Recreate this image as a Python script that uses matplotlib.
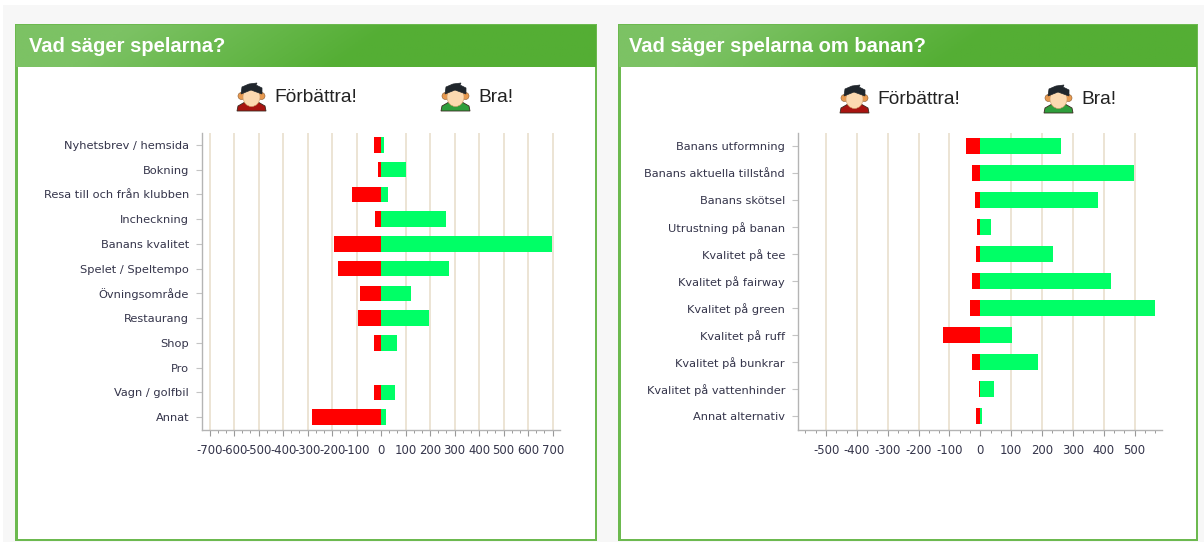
"""Two diverging bar panels: Vad säger spelarna?"""

import matplotlib

matplotlib.use("Agg")
import matplotlib.pyplot as plt
import numpy as np
from matplotlib.patches import Circle, Ellipse, Polygon, Rectangle

W, H = 1204, 542

left_title = "Vad säger spelarna?"
left_categories = [
    "Nyhetsbrev / hemsida",
    "Bokning",
    "Resa till och från klubben",
    "Incheckning",
    "Banans kvalitet",
    "Spelet / Speltempo",
    "Övningsområde",
    "Restaurang",
    "Shop",
    "Pro",
    "Vagn / golfbil",
    "Annat",
]
left_bad = [-31, -12, -120, -27, -192, -178, -86, -93, -30, 0, -31, -282]
left_good = [12, 102, 26, 263, 698, 276, 121, 197, 65, 0, 58, 19]
left_ticks = [-700, -600, -500, -400, -300, -200, -100, 0, 100, 200, 300, 400, 500, 600, 700]

right_title = "Vad säger spelarna om banan?"
right_categories = [
    "Banans utformning",
    "Banans aktuella tillstånd",
    "Banans skötsel",
    "Utrustning på banan",
    "Kvalitet på tee",
    "Kvalitet på fairway",
    "Kvalitet på green",
    "Kvalitet på ruff",
    "Kvalitet på bunkrar",
    "Kvalitet på vattenhinder",
    "Annat alternativ",
]
right_bad = [-46, -27, -16, -11, -15, -27, -32, -121, -27, -5, -15]
right_good = [261, 498, 380, 36, 235, 424, 565, 104, 187, 45, 4]
right_ticks = [-500, -400, -300, -200, -100, 0, 100, 200, 300, 400, 500]

GREEN = "#00ff66"
RED = "#ff0000"
GRID = "#e9dfcd"
AXIS = "#b4b4b4"
TEXT = "#34344a"
PANEL = "#6cb94f"


def draw_person(bg, x, y, shirt):
    """Small person icon, x and y are the top left corner in pixels"""
    bg.add_patch(Polygon([(x, y + 28), (x + 1, y + 23), (x + 8, y + 19), (x + 21, y + 19),
                          (x + 28, y + 23), (x + 29, y + 28)],
                         fc=shirt, ec="#3a2a20", lw=0.6, zorder=3))
    bg.add_patch(Circle((x + 4.5, y + 13), 3.5, fc="#e89a50", ec="#8a5a30", lw=0.4, zorder=3))
    bg.add_patch(Circle((x + 24.5, y + 13), 3.5, fc="#e89a50", ec="#8a5a30", lw=0.4, zorder=3))
    bg.add_patch(Ellipse((x + 14.5, y + 14), 17, 19, fc="#fcd9b0", ec="#d09a65", lw=0.4, zorder=4))
    bg.add_patch(Polygon([(x + 4, y + 11), (x + 5, y + 4), (x + 12, y + 1), (x + 20, y),
                          (x + 19, y + 2), (x + 25, y + 5), (x + 25, y + 11), (x + 14, y + 7)],
                         fc="#20262c", ec="#20262c", lw=0.5, zorder=5))


def draw_panel(bg, x0, x1, title, title_x):
    """Green framed box with the gradient header"""
    y0, y_head, y1 = 24, 67, 541
    bg.add_patch(Rectangle((x0, y0), x1 - x0, y1 - y0, fc=PANEL, ec="none", zorder=1))
    bg.add_patch(Rectangle((x0 + 3, y_head), x1 - x0 - 5, y1 - y_head - 2, fc="white", ec="none", zorder=2))

    # header gets lighter to the left, the bright part leans a bit
    xx, yy = np.meshgrid(np.linspace(0, 1, 200), np.linspace(0, 1, 20))
    t = np.clip((xx - 0.15 + 0.1 * (yy - 0.5)) / 0.45, 0, 1)[..., None]
    light = np.array([124, 194, 100]) / 255
    dark = np.array([84, 174, 52]) / 255
    bg.imshow(light * (1 - t) + dark * t, extent=(x0 + 1, x1 - 1, y_head, y0 + 1), aspect="auto", zorder=2)
    bg.text(title_x, 47, title, color="white", fontsize=14.5, fontweight="bold",
            family="Liberation Sans", va="center", zorder=6)


def draw_legend(bg, bad_x, good_x, y):
    """Icons and words above the chart"""
    draw_person(bg, bad_x, y - 14, "#a81410")
    bg.text(bad_x + 37, y, "Förbättra!", fontsize=13.8, color="#222222", family="Liberation Sans",
            va="center", zorder=6)
    draw_person(bg, good_x, y - 14, "#2f9e3c")
    bg.text(good_x + 37, y, "Bra!", fontsize=13.8, color="#222222", family="Liberation Sans",
            va="center", zorder=6)


def bar_height(n):
    """Bars are about 15.5 px high in both charts"""
    return 15.5 / (297 / n)


def plot_bars(rect, categories, bad, good, ticks, limit):
    """One diverging bar chart, rect is left, top, right, bottom in pixels"""
    left, top, right, bottom = rect
    ax = fig.add_axes([left / W, 1 - bottom / H, (right - left) / W, (bottom - top) / H])
    ax.patch.set_alpha(0)
    y = np.arange(len(categories))
    ax.vlines([t for t in ticks if t != 0], 0, 1, transform=ax.get_xaxis_transform(),
              color=GRID, lw=1.2, zorder=1)
    ax.barh(y, bad, height=bar_height(len(categories)), color=RED, zorder=3)
    ax.barh(y, good, height=bar_height(len(categories)), color=GREEN, zorder=3)
    ax.set_xlim(-limit, limit)
    ax.set_ylim(len(categories) - 0.5, -0.5)
    ax.set_yticks(y, categories)
    ax.set_xticks(ticks, [str(t) for t in ticks])
    ax.xaxis.set_minor_locator(plt.MultipleLocator(100 / 3))
    ax.tick_params(axis="y", length=4.5, width=0.8, color="#c4c4c4", pad=5, labelsize=8.2, labelcolor=TEXT)
    ax.tick_params(axis="x", which="major", length=4.5, width=0.8, color="#999999", pad=6,
                   labelsize=8.4, labelcolor=TEXT)
    ax.tick_params(axis="x", which="minor", length=2, width=0.7, color="#999999")
    for side in ["top", "right"]:
        ax.spines[side].set_visible(False)
    for side in ["left", "bottom"]:
        ax.spines[side].set_color(AXIS)
        ax.spines[side].set_linewidth(1)
    return ax


fig = plt.figure(figsize=(W / 100, H / 100), dpi=100, facecolor="white")
bg = fig.add_axes([0, 0, 1, 1])
bg.axis("off")
bg.add_patch(Rectangle((3, 5), W, H, fc="#f7f7f7", ec="none", zorder=0))

draw_panel(bg, 15, 597, left_title, 29)
draw_panel(bg, 618, 1198, right_title, 629)
draw_legend(bg, 237, 441, 97)
draw_legend(bg, 840, 1044, 99)

bg.set_xlim(0, W)
bg.set_ylim(H, 0)

plot_bars((202.3, 132.5, 560, 429.5), left_categories, left_bad, left_good, left_ticks, 730)
plot_bars((798.3, 132.5, 1162.3, 429.5), right_categories, right_bad, right_good, right_ticks, 590)

fig.savefig("out.png", dpi=100)
